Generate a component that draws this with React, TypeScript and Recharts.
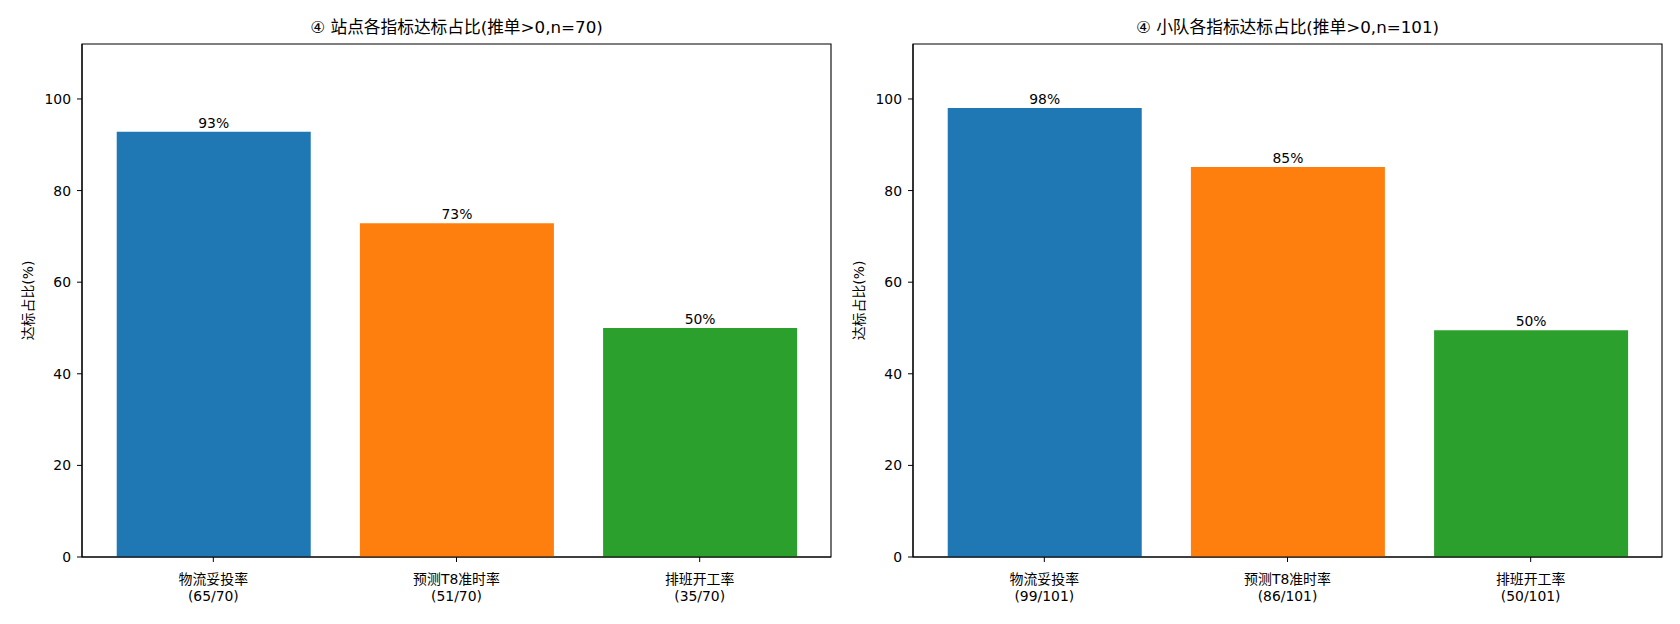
import React from "react";
import { BarChart, Bar, XAxis, YAxis, Cell, LabelList, ReferenceArea } from "recharts";

// 各指标名称及达标数量
const metrics = ["物流妥投率", "预测T8准时率", "排班开工率"];
const stationHits = [65, 51, 35];
const stationTotal = 70;
const teamHits = [99, 86, 50];
const teamTotal = 101;

const barColors = ["#1f77b4", "#ff7f0e", "#2ca02c"];
const yTicks = [0, 20, 40, 60, 80, 100];
const yMax = 112;
const xTicks = [0, 1, 2];
const xDomain = [-0.54, 2.54];

const FONT = "'DejaVu Sans', 'Noto Sans CJK SC', sans-serif";
const frame = { stroke: "#000", strokeWidth: 1.1 };

function PanelTitle({ viewBox, text }: any) {
  const { x, y, width } = viewBox;
  return (
    <text x={x + width / 2} y={y - 11} textAnchor="middle" fontSize={16.7} fontFamily={FONT} fill="#000">
      {text}
    </text>
  );
}

function YTitle({ viewBox }: any) {
  const { x, y, width, height } = viewBox;
  const cx = x + width - 54;
  const cy = y + height / 2;
  return (
    <text
      x={cx}
      y={cy}
      textAnchor="middle"
      dominantBaseline="central"
      transform={`rotate(-90 ${cx} ${cy})`}
      fontSize={13.9}
      fontFamily={FONT}
      fill="#000"
    >
      达标占比(%)
    </text>
  );
}

function MetricTick({ x, y, payload, subs }: any) {
  const i = Math.round(payload.value);
  return (
    <text x={x} y={y} textAnchor="middle" fontSize={13.9} fontFamily={FONT} fill="#000">
      <tspan x={x} dy={20}>{metrics[i]}</tspan>
      <tspan x={x} dy={17}>{subs[i]}</tspan>
    </text>
  );
}

function RateLabel({ x, y, width, value }: any) {
  return (
    <text x={x + width / 2} y={y - 4} textAnchor="middle" fontSize={13.9} fontFamily={FONT} fill="#000">
      {`${Math.round(value)}%`}
    </text>
  );
}

interface PanelProps {
  title: string;
  hits: number[];
  total: number;
  marginLeft: number;
  marginRight: number;
}

function RatePanel({ title, hits, total, marginLeft, marginRight }: PanelProps) {
  const data = metrics.map((name, i) => ({
    idx: i,
    name,
    sub: `(${hits[i]}/${total})`,
    rate: (hits[i] / total) * 100,
  }));
  const subs = data.map((d) => d.sub);

  return (
    <BarChart
      width={840}
      height={624}
      data={data}
      margin={{ top: 44, right: marginRight, bottom: 27, left: marginLeft }}
    >
      <XAxis
        type="number"
        dataKey="idx"
        domain={xDomain}
        ticks={xTicks}
        allowDataOverflow
        height={40}
        axisLine={frame}
        tickLine={{ stroke: "#000" }}
        tickSize={5}
        tick={<MetricTick subs={subs} />}
        interval={0}
      />
      <YAxis
        width={60}
        domain={[0, yMax]}
        ticks={yTicks}
        allowDataOverflow
        axisLine={frame}
        tickLine={{ stroke: "#000" }}
        tickSize={5}
        tickMargin={6}
        tick={{ fill: "#000", fontSize: 13.9, fontFamily: FONT }}
        label={<YTitle />}
      />
      <Bar dataKey="rate" barSize={194} isAnimationActive={false}>
        {data.map((d, i) => (
          <Cell key={d.name} fill={barColors[i]} />
        ))}
        <LabelList dataKey="rate" content={<RateLabel />} />
      </Bar>
      {/* 整个绘图区的黑色边框 + 标题 */}
      <ReferenceArea
        y1={0}
        y2={yMax}
        fill="none"
        fillOpacity={0}
        stroke="#000"
        strokeWidth={1.1}
        ifOverflow="visible"
        label={<PanelTitle text={title} />}
      />
    </BarChart>
  );
}

export default function App() {
  return (
    <div
      style={{
        position: "absolute",
        left: 0,
        top: 0,
        width: 1680,
        height: 624,
        background: "#fff",
        display: "flex",
      }}
    >
      <RatePanel
        title={`④ 站点各指标达标占比(推单>0,n=${stationTotal})`}
        hits={stationHits}
        total={stationTotal}
        marginLeft={22}
        marginRight={9}
      />
      <RatePanel
        title={`④ 小队各指标达标占比(推单>0,n=${teamTotal})`}
        hits={teamHits}
        total={teamTotal}
        marginLeft={13}
        marginRight={18}
      />
    </div>
  );
}
